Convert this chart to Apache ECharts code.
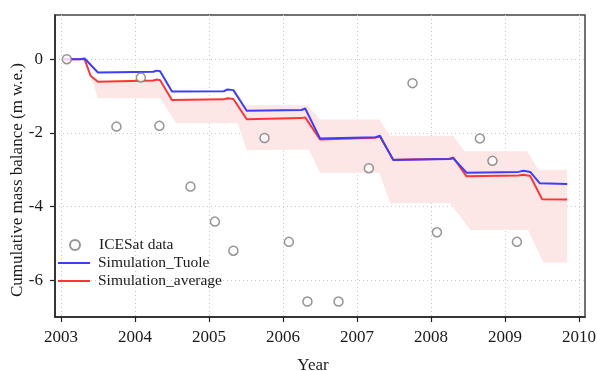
<!DOCTYPE html>
<html>
<head>
<meta charset="utf-8">
<script src="https://cdn.jsdelivr.net/npm/echarts@6/dist/echarts.min.js"></script>
<style>html,body{margin:0;padding:0;background:#fff}#c{width:597px;height:371px}</style>
</head>
<body>
<div id="c"></div>
<script>
const xTicks = [2003, 2004, 2005, 2006, 2007, 2008, 2009, 2010];
const yTicks = [-6, -4, -2, 0];

const icesatYears = [2003.08, 2003.75, 2004.08, 2004.33, 2004.75, 2005.08, 2005.33, 2005.75, 2006.08, 2006.33, 2006.75, 2007.16, 2007.75, 2008.08, 2008.66, 2008.83, 2009.16];
const icesatValues = [0, -1.83, -0.5, -1.81, -3.46, -4.41, -5.2, -2.14, -4.96, -6.58, -6.58, -2.96, -0.65, -4.70, -2.15, -2.76, -4.96];

const tuoleYears = [2003.04, 2003.25, 2003.32, 2003.5, 2004.25, 2004.29, 2004.34, 2004.5, 2005.2, 2005.25, 2005.33, 2005.51, 2006.25, 2006.3, 2006.5, 2007.25, 2007.31, 2007.49, 2008.25, 2008.3, 2008.48, 2009.18, 2009.25, 2009.34, 2009.47, 2009.84];
const tuoleValues = [0, 0, 0.02, -0.36, -0.34, -0.31, -0.33, -0.88, -0.87, -0.82, -0.84, -1.40, -1.38, -1.34, -2.15, -2.12, -2.08, -2.74, -2.71, -2.69, -3.08, -3.06, -3.03, -3.06, -3.37, -3.39];

const avgYears = [2003.04, 2003.32, 2003.4, 2003.5, 2004.25, 2004.29, 2004.34, 2004.5, 2005.2, 2005.25, 2005.33, 2005.51, 2006.25, 2006.3, 2006.5, 2007.25, 2007.31, 2007.49, 2008.25, 2008.3, 2008.48, 2009.18, 2009.25, 2009.34, 2009.5, 2009.84];
const avgValues = [0, 0, -0.45, -0.61, -0.58, -0.55, -0.57, -1.11, -1.09, -1.06, -1.08, -1.63, -1.6, -1.58, -2.18, -2.13, -2.1, -2.73, -2.7, -2.67, -3.18, -3.16, -3.14, -3.17, -3.8, -3.81];

const bandUpperYears = [2003.32, 2003.41, 2003.5, 2004.29, 2004.5, 2005.3, 2005.45, 2006.33, 2006.5, 2007.3, 2007.45, 2008.3, 2008.45, 2009.3, 2009.45, 2009.84];
const bandUpperValues = [0, -0.47, -0.6, -0.55, -1.1, -1.06, -1.25, -1.25, -1.64, -1.64, -2.08, -2.08, -2.5, -2.5, -3.0, -3.0];
const bandLowerYears = [2003.32, 2003.42, 2003.5, 2004.34, 2004.56, 2005.39, 2005.51, 2006.35, 2006.5, 2007.3, 2007.45, 2008.26, 2008.53, 2009.31, 2009.52, 2009.84];
const bandLowerValues = [0, -0.55, -1.06, -1.06, -1.74, -1.74, -2.47, -2.45, -3.08, -3.08, -3.91, -3.91, -4.64, -4.64, -5.52, -5.52];

const serif = '"Liberation Serif", "Times New Roman", serif';
const chart = echarts.init(document.getElementById('c'), null, {renderer: 'canvas'});

const zip = (xs, ys) => xs.map((x, i) => [x, ys[i]]);
const legendText = {fontFamily: serif, fontSize: 15.5, color: '#1a1a1a', lineHeight: 16};

chart.setOption({
  animation: false,
  backgroundColor: '#fff',
  grid: {left: 55, right: 12, top: 15, bottom: 54, show: true, borderColor: '#444', borderWidth: 1.5, containLabel: false, outerBoundsMode: 'none'},
  legend: [
    {
      orient: 'vertical', left: 64, top: 232, itemGap: 2, itemWidth: 10, itemHeight: 10,
      textStyle: Object.assign({}, legendText, {padding: [0, 0, 0, 14]}), data: ['ICESat data']
    },
    {
      orient: 'vertical', left: 53, top: 250, itemGap: 2, itemWidth: 32, itemHeight: 2, icon: 'rect',
      textStyle: Object.assign({}, legendText, {padding: [0, 0, 0, 3]}), data: ['Simulation_Tuole', 'Simulation_average']
    }
  ],
  xAxis: {
    type: 'value', min: 2002.92, max: 2010.08,
    name: 'Year', nameLocation: 'middle', nameGap: 40, nameMoveOverlap: false,
    nameTextStyle: {fontFamily: serif, fontSize: 17, color: '#1a1a1a', padding: [0, 14, 0, 0]},
    axisLine: {show: true, onZero: false, lineStyle: {color: '#222', width: 1.5}},
    axisTick: {show: true, length: 5, customValues: xTicks, lineStyle: {color: '#222', width: 1.2}},
    axisLabel: {customValues: xTicks, fontFamily: serif, fontSize: 17, color: '#1a1a1a', margin: 12, formatter: v => String(v)},
    splitLine: {show: true, lineStyle: {color: '#c8c8c8', type: [1, 3], width: 1}}
  },
  yAxis: {
    type: 'value', min: -7, max: 1.2,
    name: 'Cumulative mass balance (m w.e.)', nameLocation: 'middle', nameGap: 29, nameRotate: 90, nameMoveOverlap: false,
    nameTextStyle: {fontFamily: serif, fontSize: 17, color: '#1a1a1a', padding: [0, 28, 0, 0]},
    axisLine: {show: true, onZero: false, lineStyle: {color: '#222', width: 1.5}},
    axisTick: {show: true, length: 5, customValues: yTicks, lineStyle: {color: '#222', width: 1.2}},
    axisLabel: {customValues: yTicks, fontFamily: serif, fontSize: 17, color: '#1a1a1a', margin: 12, formatter: v => String(v)},
    splitLine: {show: true, lineStyle: {color: '#c8c8c8', type: [1, 3], width: 1}}
  },
  series: [
    {
      type: 'custom', name: 'band', silent: true, z: 1,
      data: [[2006, -2]],
      renderItem: function (params, api) {
        const up = bandUpperYears.map((x, i) => api.coord([x, bandUpperValues[i]]));
        const lo = bandLowerYears.map((x, i) => api.coord([x, bandLowerValues[i]])).reverse();
        return {type: 'polygon', shape: {points: up.concat(lo)}, style: {fill: '#fde6e6'}};
      }
    },
    {
      name: 'Simulation_Tuole', type: 'line', data: zip(tuoleYears, tuoleValues), symbol: 'none', z: 3,
      lineStyle: {color: '#3d3dff', width: 2}, itemStyle: {color: '#3d3dff'}
    },
    {
      name: 'Simulation_average', type: 'line', data: zip(avgYears, avgValues), symbol: 'none', z: 2,
      lineStyle: {color: '#ff3535', width: 2}, itemStyle: {color: '#ff3535'}
    },
    {
      name: 'ICESat data', type: 'scatter', data: zip(icesatYears, icesatValues), symbol: 'circle', symbolSize: 9, z: 5,
      itemStyle: {color: '#fff', borderColor: '#7a7a7a', borderWidth: 1.5}
    }
  ]
});
</script>
</body>
</html>
